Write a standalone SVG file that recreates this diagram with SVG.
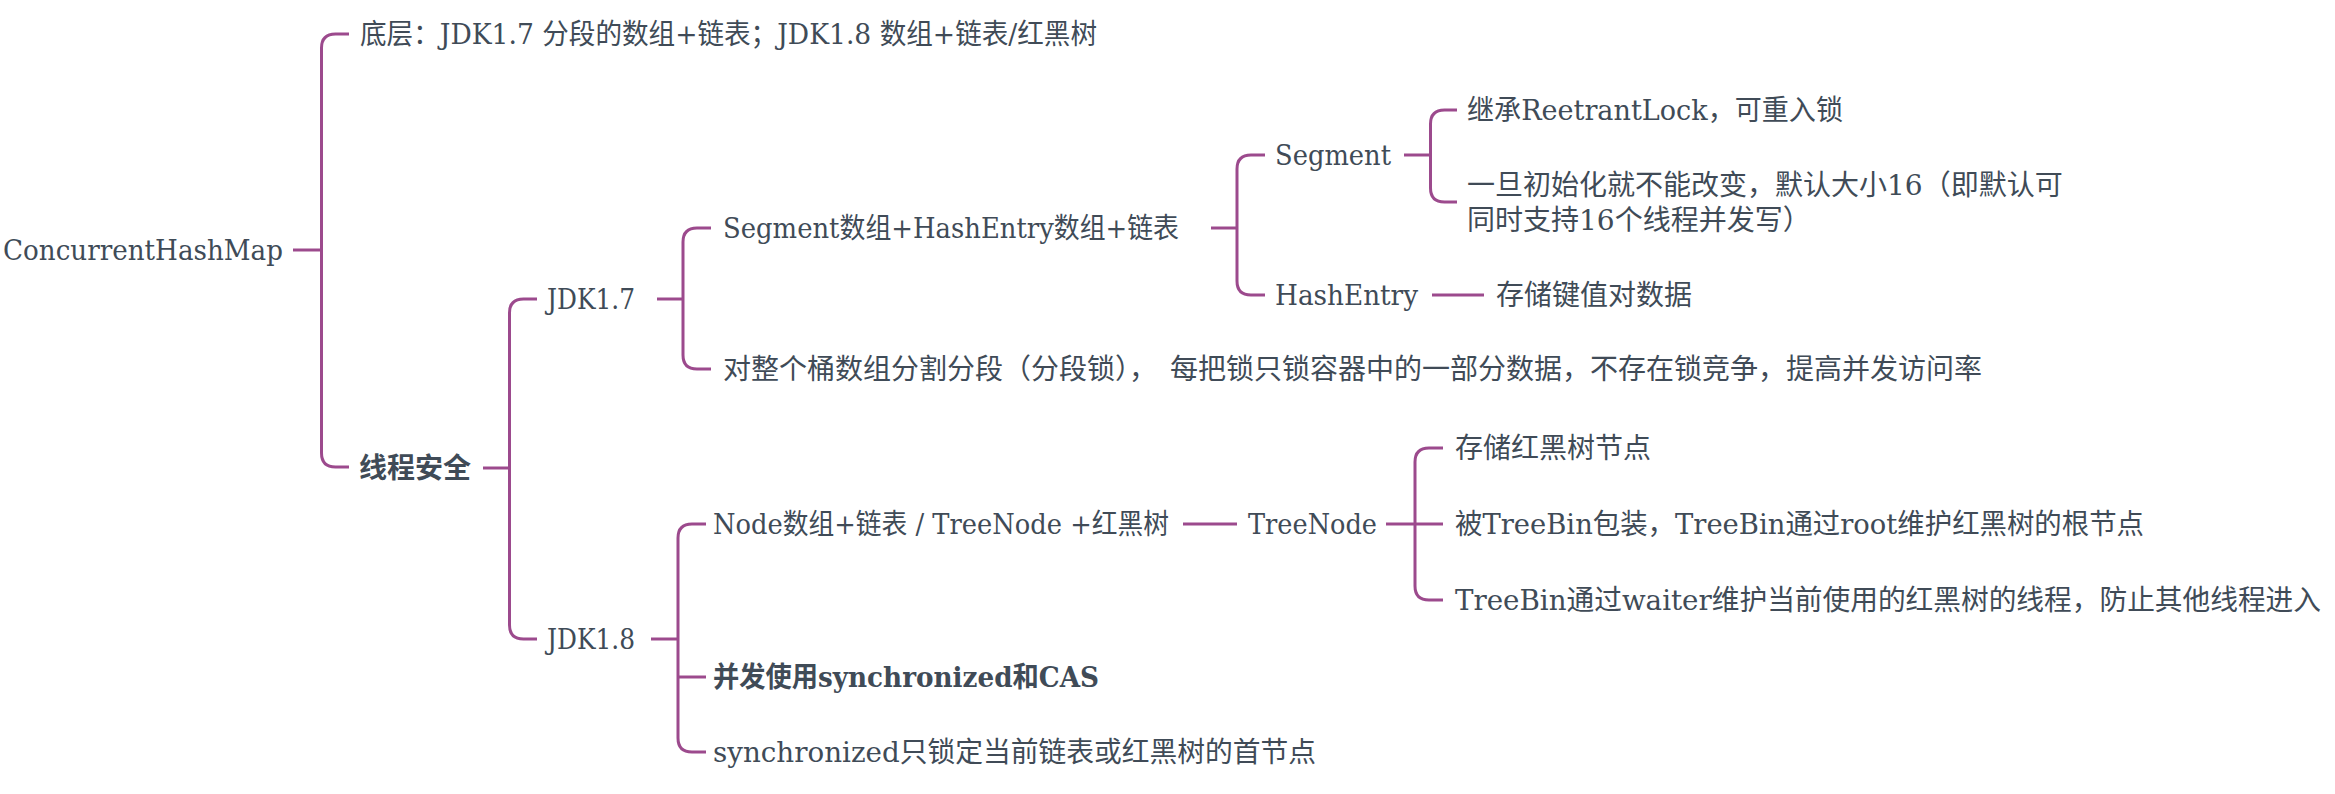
<svg xmlns="http://www.w3.org/2000/svg" width="2335" height="794" viewBox="0 0 2335 794">
<style>
.t{font-family:"DejaVu Serif","Noto Sans CJK SC",serif;font-size:28px;fill:#404b57;dominant-baseline:central}
.b{font-weight:bold}
.c{fill:none;stroke:#9c4a8d;stroke-width:3;stroke-linecap:butt}
</style>
<rect width="2335" height="794" fill="#ffffff"/>
<g id="connectors">
<path class="c" d="M293,250 H321.5"/>
<path class="c" d="M349,34 H335.5 Q321.5,34 321.5,48 V453 Q321.5,467 335.5,467 H349"/>
<path class="c" d="M483,468 H509.5"/>
<path class="c" d="M537,299 H523.5 Q509.5,299 509.5,313 V625 Q509.5,639 523.5,639 H537"/>
<path class="c" d="M657,299 H683"/>
<path class="c" d="M711,228 H697 Q683,228 683,242 V355 Q683,369 697,369 H711"/>
<path class="c" d="M1211,228 H1237"/>
<path class="c" d="M1265,155 H1251 Q1237,155 1237,169 V281 Q1237,295 1251,295 H1265"/>
<path class="c" d="M1404,155 H1430.5"/>
<path class="c" d="M1457,110 H1444.5 Q1430.5,110 1430.5,124 V188 Q1430.5,202 1444.5,202 H1457"/>
<path class="c" d="M1432,295 H1484"/>
<path class="c" d="M651,639 H678"/>
<path class="c" d="M706,524 H692 Q678,524 678,538 V738 Q678,752 692,752 H706"/>
<path class="c" d="M678,677 H706"/>
<path class="c" d="M1183,524 H1237"/>
<path class="c" d="M1386,524 H1415"/>
<path class="c" d="M1443,448 H1429 Q1415,448 1415,462 V586 Q1415,600 1429,600 H1443"/>
<path class="c" d="M1415,524 H1443"/>
</g>
<g id="root"><text class="t" x="3" y="250" textLength="280" lengthAdjust="spacingAndGlyphs">ConcurrentHashMap</text></g>
<g id="n-bottom"><text class="t" x="360" y="34" textLength="737" lengthAdjust="spacingAndGlyphs">底层：JDK1.7 分段的数组+链表；JDK1.8 数组+链表/红黑树</text></g>
<g id="n-thread"><text class="t b" x="359" y="468">线程安全</text></g>
<g id="n-jdk17"><text class="t" x="547" y="299" textLength="88" lengthAdjust="spacingAndGlyphs">JDK1.7</text></g>
<g id="n-seg-arr"><text class="t" x="723" y="228" textLength="456" lengthAdjust="spacingAndGlyphs">Segment数组+HashEntry数组+链表</text></g>
<g id="n-segment"><text class="t" x="1275" y="155" textLength="116" lengthAdjust="spacingAndGlyphs">Segment</text></g>
<g id="n-reentrant"><text class="t" x="1467" y="110" textLength="376" lengthAdjust="spacingAndGlyphs">继承ReetrantLock，可重入锁</text></g>
<g id="n-init"><text class="t" x="1467" y="185">一旦初始化就不能改变，默认大小16（即默认可</text><text class="t" x="1467" y="220">同时支持16个线程并发写）</text></g>
<g id="n-hashentry"><text class="t" x="1275" y="295" textLength="143" lengthAdjust="spacingAndGlyphs">HashEntry</text></g>
<g id="n-kv"><text class="t" x="1496" y="295">存储键值对数据</text></g>
<g id="n-lockseg"><text class="t" x="723" y="369">对整个桶数组分割分段（分段锁），<tspan dx="13">每把锁只锁容器中的一部分数据，不存在锁竞争，提高并发访问率</tspan></text></g>
<g id="n-jdk18"><text class="t" x="547" y="639" textLength="88" lengthAdjust="spacingAndGlyphs">JDK1.8</text></g>
<g id="n-node"><text class="t" x="713" y="524" textLength="456" lengthAdjust="spacingAndGlyphs">Node数组+链表 / TreeNode +红黑树</text></g>
<g id="n-treenode"><text class="t" x="1248" y="524" textLength="129" lengthAdjust="spacingAndGlyphs">TreeNode</text></g>
<g id="n-store-rb"><text class="t" x="1455" y="448">存储红黑树节点</text></g>
<g id="n-treebin"><text class="t" x="1455" y="524" textLength="689" lengthAdjust="spacingAndGlyphs">被TreeBin包装，TreeBin通过root维护红黑树的根节点</text></g>
<g id="n-waiter"><text class="t" x="1455" y="600" textLength="866" lengthAdjust="spacingAndGlyphs">TreeBin通过waiter维护当前使用的红黑树的线程，防止其他线程进入</text></g>
<g id="n-cas"><text class="t b" x="713" y="677" textLength="386" lengthAdjust="spacingAndGlyphs">并发使用synchronized和CAS</text></g>
<g id="n-sync"><text class="t" x="713" y="752" textLength="603" lengthAdjust="spacingAndGlyphs">synchronized只锁定当前链表或红黑树的首节点</text></g>
</svg>
